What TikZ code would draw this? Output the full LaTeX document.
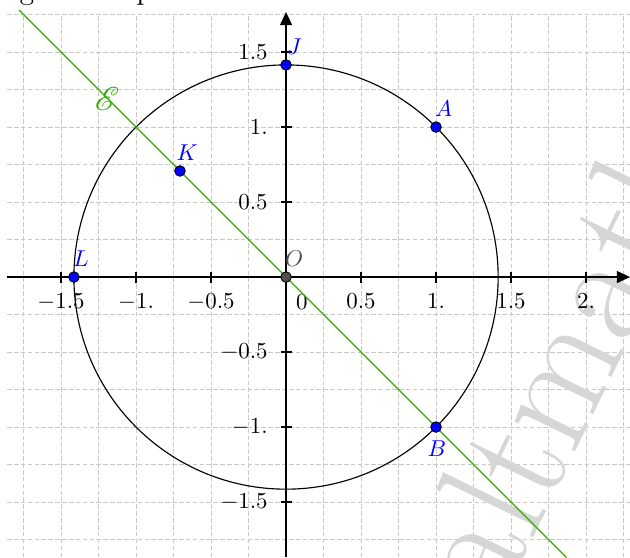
\documentclass[tikz,border=0pt]{standalone}
\usepackage{fontspec}
\usepackage{mathrsfs}
\usetikzlibrary{arrows.meta}
\definecolor{ggreen}{RGB}{50,172,0}
\definecolor{wmgray}{RGB}{214,214,214}
\definecolor{ogray}{RGB}{80,80,80}
\begin{document}
\begin{tikzpicture}[x=2.3cm,y=2.3cm,
  gridl/.style={gray!42, dash pattern=on 2pt off 1pt, line width=0.35pt},
  axisl/.style={line width=0.6pt, -{Triangle[length=5.7pt,width=5.2pt]}},
  tickl/.style={line width=0.5pt},
  dot/.style={circle, fill=blue, draw=black, line width=0.4pt, inner sep=0pt, minimum size=4.6pt},
  odot/.style={dot, fill=ogray},
  ptlbl/.style={text=blue, inner sep=0pt},
  olbl/.style={text=ogray, inner sep=0pt}]
\useasboundingbox (-1.907,-1.867) rectangle (2.293,1.847);
% partial title above
\node[anchor=base west, inner sep=0pt, font=\fontsize{13}{15}\selectfont] (title) at (-1.96,1.853) {Figure complète};
% grid
\draw[gridl, step=0.25] (-1.86,-1.867) grid (2.293,1.75);
% watermark
\node[text=wmgray, rotate=64, inner sep=0pt, font=\fontsize{69}{80}\selectfont] (wm) at (1.83,-0.547) {altmath};
% axes
\coordinate (xs) at (-1.86,0);
\coordinate (xe) at (2.293,0);
\coordinate (ys) at (0,-1.867);
\coordinate (ye) at (0,1.767);
\draw[axisl] (xs) -- (xe);
\draw[axisl] (ys) -- (ye);
\foreach \v/\t in {-1.5/{-1.5}, -1/{-1.}, -0.5/{-0.5}, 0.5/{0.5}, 1/{1.}, 1.5/{1.5}, 2/{2.}}{
  \draw[tickl] ([yshift=2.4pt]\v,0) -- ([yshift=-2.4pt]\v,0);
  \node[below=3.7pt] at (\v,0) {$\t$};
}
\foreach \v/\t in {-1.5/{-1.5}, -1/{-1.}, -0.5/{-0.5}, 0.5/{0.5}, 1/{1.}, 1.5/{1.5}}{
  \draw[tickl] ([xshift=2.4pt]0,\v) -- ([xshift=-2.4pt]0,\v);
  \node[left=4.5pt] at (0,\v) {$\t$};
}
\node (zero) at (0.105,-0.167) {$0$};
% circle and line
\coordinate (c0) at (0,0);
\draw[line width=0.5pt] (c0) circle[radius=1.41421];
\coordinate (e1) at (-1.78,1.78);
\coordinate (e2) at (1.87,-1.87);
\draw[ggreen, line width=0.55pt] (e1) -- (e2);
\node[text=ggreen, font=\Large] (elbl) at (-1.193,1.187) {$\mathscr{E}$};
% points
\node[dot] (A) at (1,1) {};
\node[dot] (B) at (1,-1) {};
\node[dot] (J) at (0,1.41421) {};
\node[dot] (K) at (-0.70711,0.70711) {};
\node[dot] (L) at (-1.41421,0) {};
\node[odot] (O) at (0,0) {};
\node[ptlbl] (Al) at ([shift={(3.4pt,7.8pt)}]A.center) {$A$};
\node[ptlbl] (Bl) at ([shift={(0.4pt,-9.5pt)}]B.center) {$B$};
\node[ptlbl] (Jl) at ([shift={(3.6pt,7.8pt)}]J.center) {$J$};
\node[ptlbl] (Kl) at ([shift={(3.1pt,7.8pt)}]K.center) {$K$};
\node[ptlbl] (Ll) at ([shift={(3.1pt,7.8pt)}]L.center) {$L$};
\node[olbl] (Ol) at ([shift={(3.5pt,7.8pt)}]O.center) {$O$};
\end{tikzpicture}
\end{document}
